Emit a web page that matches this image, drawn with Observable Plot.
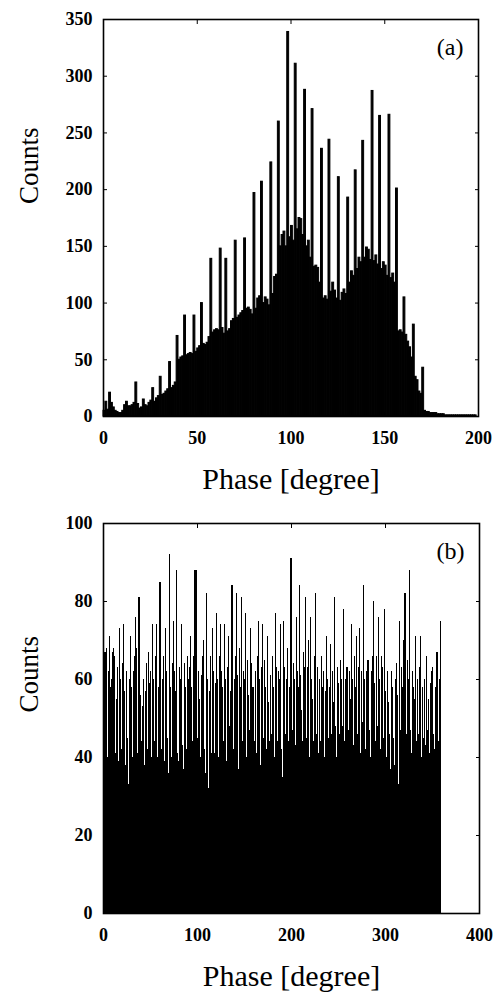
<!DOCTYPE html>
<html>
<head>
<meta charset="utf-8">
<script src="https://cdn.jsdelivr.net/npm/d3@7"></script>
<script src="https://cdn.jsdelivr.net/npm/@observablehq/plot@0.6"></script>
<style>
  html, body { margin: 0; padding: 0; background: #fff; }
  #chart svg { display: block; }
</style>
</head>
<body>
<div id="chart"></div>
<script>
// ---------- Panel (a): counts per 1-degree phase bin, 0..199 ----------
const countsA = [
  5,13,6,21,12,8,5,4,3,3,
  5,10,13,9,9,10,12,30,11,7,
  8,15,10,9,12,14,25,13,16,18,
  35,19,20,22,24,48,25,27,30,71,
  50,52,53,89,54,55,56,55,89,57,
  60,62,100,64,63,65,70,139,74,76,
  77,76,148,78,73,139,75,77,84,86,
  155,87,89,91,93,157,95,96,94,90,
  197,95,104,106,207,100,105,103,98,224,
  108,123,125,260,150,160,163,150,339,158,
  168,155,311,165,175,174,160,288,150,155,
  140,271,132,133,131,118,236,104,106,103,
  244,110,118,111,104,211,102,109,112,108,
  193,118,128,124,217,130,140,136,243,140,
  149,147,138,287,137,142,134,265,130,136,
  133,124,266,122,126,118,201,75,76,74,
  105,72,66,61,52,81,35,32,22,20,
  43,5,4,4,3,3,3,3,2,2,
  2,2,1,1,1,1,1,1,1,1,
  1,1,1,1,1,1,1,1,1,0
];

// ---------- Panel (b): counts per 1-degree phase bin, 0..359 ----------
const countsB = [
  66,67,67,68,40,62,71,58,38,60,
  67,68,66,41,55,63,39,73,60,42,
  64,74,57,38,62,67,45,33,60,71,
  58,40,62,66,76,68,41,81,81,56,
  44,62,53,60,38,57,64,42,67,59,
  62,40,74,60,44,66,74,40,63,58,
  85,85,42,60,66,39,73,62,45,36,
  92,58,40,64,75,44,62,57,88,41,
  39,63,60,74,43,37,64,58,42,66,
  60,41,63,71,58,44,66,88,88,88,
  45,62,55,40,61,66,70,42,58,36,
  82,60,32,57,66,41,73,62,41,59,
  77,60,40,66,74,45,62,58,44,74,
  60,39,63,71,48,57,84,84,42,60,
  66,45,82,61,37,68,58,81,44,62,
  60,77,40,65,56,47,73,64,43,58,
  58,44,62,41,66,75,60,38,63,74,
  45,65,58,42,71,62,54,44,61,46,
  66,58,40,77,63,44,62,60,74,42,
  35,61,75,63,46,60,68,44,58,91,
  91,47,64,60,43,76,62,58,45,84,
  61,52,44,67,63,81,45,63,70,40,
  76,60,55,44,66,82,82,46,63,41,
  60,44,66,58,62,40,57,71,60,45,
  58,68,69,46,62,54,81,48,40,63,
  59,46,65,60,48,78,44,60,38,63,
  63,47,62,55,74,60,43,66,58,71,
  46,63,73,41,62,65,49,84,60,42,
  62,65,65,47,40,62,66,80,59,44,
  66,79,48,76,60,42,66,63,45,78,
  57,40,62,54,46,37,62,58,82,45,
  38,60,64,56,33,75,47,63,58,70,
  82,82,46,65,60,88,88,47,41,62,
  58,55,71,44,60,46,63,71,40,58,
  45,71,60,43,66,47,55,41,59,62,
  63,46,42,58,67,67,44,60,75,75
];

const binWidth = 1; // degrees
const xTicksA = [0, 50, 100, 150, 200];
const yTicksA = [0, 50, 100, 150, 200, 250, 300, 350];
const xTicksB = [0, 100, 200, 300, 400];
const yTicksB = [0, 20, 40, 60, 80, 100];
const xTitle = "Phase [degree]";
const yTitle = "Counts";
const panelLabels = ["(a)", "(b)"];

const toBins = (counts) => counts.map((c, i) => ({x1: i * binWidth, x2: (i + 1) * binWidth, count: c}));

function panel({counts, xDomain, yDomain, xTicks, yTicks, label, height, marginTop, marginBottom, marginRight, countsDy, barStroke, crisp}) {
  const tickFont = {fontSize: 18, fontWeight: "bold"};
  const barOpts = {x1: "x1", x2: "x2", y: "count", fill: "black"};
  if (barStroke) Object.assign(barOpts, {stroke: "black", strokeWidth: barStroke});
  if (crisp) barOpts.shapeRendering = "crispEdges";
  return Plot.plot({
    width: 501,
    height,
    marginLeft: 103,
    marginRight,
    marginTop,
    marginBottom,
    style: {fontFamily: "'Liberation Serif', 'DejaVu Serif', serif", color: "black", background: "white"},
    x: {domain: xDomain, ticks: xTicks},
    y: {domain: yDomain, ticks: yTicks},
    marks: [
      Plot.rectY(toBins(counts), barOpts),
      Plot.frame({stroke: "black", strokeWidth: 1.6}),
      Plot.axisX({anchor: "bottom", ticks: xTicks, tickSize: -4, tickPadding: 19, label: null, ...tickFont}),
      Plot.axisX({anchor: "top", ticks: xTicks, tickSize: -4, tickFormat: () => "", label: null}),
      Plot.axisY({anchor: "left", ticks: yTicks, tickSize: -4, tickPadding: 15, label: null, ...tickFont}),
      Plot.axisY({anchor: "right", ticks: yTicks, tickSize: -4, tickFormat: () => "", label: null}),
      Plot.text([xTitle], {frameAnchor: "bottom", dy: 72, lineAnchor: "bottom", fontSize: 30}),
      Plot.text([yTitle], {frameAnchor: "left", rotate: -90, dx: -74, dy: countsDy, fontSize: 27}),
      Plot.text([label], {frameAnchor: "top-right", dx: -15, dy: 35, lineAnchor: "bottom", textAnchor: "end", fontSize: 24})
    ]
  });
}

const chart = document.getElementById("chart");
chart.append(panel({
  counts: countsA, xDomain: [0, 200], yDomain: [0, 350], xTicks: xTicksA, yTicks: yTicksA,
  label: panelLabels[0], height: 497, marginTop: 19, marginBottom: 81, marginRight: 23, countsDy: -14, barStroke: 1, crisp: false
}));
chart.append(panel({
  counts: countsB, xDomain: [0, 400], yDomain: [0, 100], xTicks: xTicksB, yTicks: yTicksB,
  label: panelLabels[1], height: 497, marginTop: 26, marginBottom: 81, marginRight: 22, countsDy: -6, barStroke: 0, crisp: true
}));
</script>
</body>
</html>
